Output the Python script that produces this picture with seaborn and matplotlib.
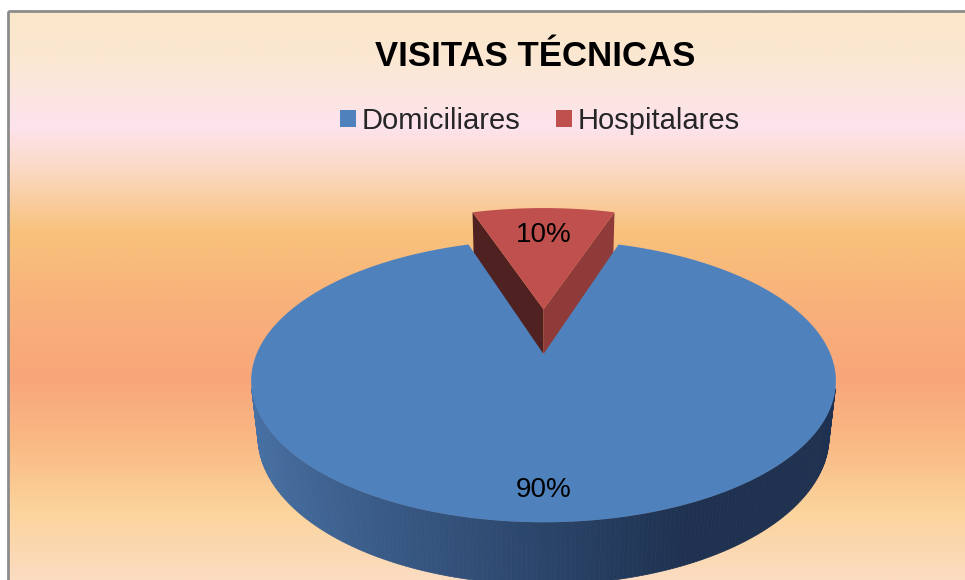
import numpy as np
import matplotlib
matplotlib.use("Agg")
import matplotlib.pyplot as plt
from matplotlib.colors import LinearSegmentedColormap, to_rgb
from matplotlib.patches import Polygon, Rectangle, Patch
import seaborn as sns

# data
categories = ["Domiciliares", "Hospitalares"]
values = [90, 10]
pct_labels = ["90%", "10%"]
title = "VISITAS TÉCNICAS"

sns.set_theme(style="white")
plt.rcParams["font.family"] = ["Liberation Sans", "DejaVu Sans"]
colors = sns.color_palette(["#4f81bd", "#c0504d"])
explode = [0.0, 0.35]
label_r = [0.84, 0.7]

W, H = 965, 580
fig = plt.figure(figsize=(W / 100, H / 100), dpi=100)
ax = fig.add_axes([0, 0, 1, 1])
ax.set_xlim(0, W)
ax.set_ylim(H, 0)
ax.axis("off")

# background gradient (Excel style)
top, bottom = 11, H
stops = [(11, "#fbe7c9"), (60, "#fbe8d3"), (125, "#fde3ed"), (165, "#fbdac8"),
         (232, "#f8c27b"), (300, "#f9b27b"), (378, "#f8a679"), (445, "#fab985"),
         (507, "#fbd39a"), (580, "#fcdcc1")]
cmap = LinearSegmentedColormap.from_list(
    "bg", [((y - top) / (bottom - top), c) for y, c in stops])
ax.imshow(np.linspace(0, 1, 600).reshape(-1, 1), cmap=cmap, aspect="auto",
          extent=[8, W, bottom, top], zorder=0)
ax.add_patch(Rectangle((8, top), W, H, fill=False, ec="#8c8c8c", lw=2, zorder=1))

# simple perspective camera for the 3D pie
f_len, tilt, dist, thick = 1320, np.radians(28.3), 4.6, 0.22
cx, cy = 543.5, 354
cam = np.array([0, -dist * np.cos(tilt), dist * np.sin(tilt)])


def proj(x, y, z):
    up = y * np.sin(tilt) + z * np.cos(tilt)
    depth = dist + y * np.cos(tilt) - z * np.sin(tilt)
    return cx + f_len * x / depth, cy - f_len * up / depth


def visible(p, n):
    return np.dot(n, cam - p) > 0


def shade(c, k):
    return tuple(np.clip(np.array(to_rgb(c)) * k, 0, 1))


shares = np.array(values) / sum(values)
start = 90 - 360 * shares[1] / 2
bounds = start - 360 * np.concatenate([[0], np.cumsum(shares)])

wall_bright, wall_dark = np.array(to_rgb("#4872a6")), np.array(to_rgb("#1e3150"))

slices = []
for i in range(len(values)):
    a, b = np.radians(bounds[i + 1]), np.radians(bounds[i])
    mid = (a + b) / 2
    o = explode[i] * np.array([np.cos(mid), np.sin(mid)])
    slices.append((i, a, b, mid, o))

# back (exploded) slices first
slices.sort(key=lambda s: -s[4][1])

for i, a, b, mid, o in slices:
    col = colors[i]
    t = np.linspace(a, b, 400)
    # radial faces
    for ang, n in [(b, np.array([-np.sin(b), np.cos(b), 0])),
                   (a, np.array([np.sin(a), -np.cos(a), 0]))]:
        pm = np.array([o[0] + 0.5 * np.cos(ang), o[1] + 0.5 * np.sin(ang), -thick / 2])
        if not visible(pm, n):
            continue
        pts = [proj(o[0], o[1], 0), proj(o[0] + np.cos(ang), o[1] + np.sin(ang), 0),
               proj(o[0] + np.cos(ang), o[1] + np.sin(ang), -thick), proj(o[0], o[1], -thick)]
        k = 0.41 if n[0] < 0 else 0.74
        ax.add_patch(Polygon(pts, closed=True, fc=shade(col, k), ec="none", zorder=2))
    # outer wall
    for t0, t1 in zip(t[:-1], t[1:]):
        tm = (t0 + t1) / 2
        n = np.array([np.cos(tm), np.sin(tm), 0])
        pm = np.array([o[0] + np.cos(tm), o[1] + np.sin(tm), -thick / 2])
        if not visible(pm, n):
            continue
        pts = [proj(o[0] + np.cos(t0), o[1] + np.sin(t0), 0),
               proj(o[0] + np.cos(t1), o[1] + np.sin(t1), 0),
               proj(o[0] + np.cos(t1), o[1] + np.sin(t1), -thick),
               proj(o[0] + np.cos(t0), o[1] + np.sin(t0), -thick)]
        k = np.clip((np.cos(tm) + 0.97) / 1.39, 0, 1)
        base = np.array(to_rgb(col)) / np.array(to_rgb(colors[0]))
        fc = np.clip(((1 - k) * wall_bright + k * wall_dark) * base, 0, 1)
        ax.add_patch(Polygon(pts, closed=True, fc=fc, ec=fc, lw=0.5, zorder=2))
    # top face
    pts = [proj(o[0], o[1], 0)] + [proj(o[0] + np.cos(tt), o[1] + np.sin(tt), 0) for tt in t]
    ax.add_patch(Polygon(pts, closed=True, fc=col, ec="none", zorder=2))
    # label
    r = label_r[i]
    lx, ly = proj(o[0] + r * np.cos(mid), o[1] + r * np.sin(mid), 0)
    ax.text(lx, ly, pct_labels[i], ha="center", va="center", fontsize=20,
            color="black", zorder=3)

ax.text(535, 56, title, ha="center", va="center", fontsize=25,
        fontweight="bold", color="black", zorder=3)

handles = [Patch(fc=colors[i], ec="none", label=categories[i]) for i in range(len(values))]
ax.legend(handles=handles, loc="center", bbox_to_anchor=(540 / W, 1 - 121 / H),
          ncol=2, frameon=False, fontsize=21, handlelength=0.55, handleheight=0.55,
          handletextpad=0.2, columnspacing=1.2, borderpad=0)

fig.savefig("out.png", dpi=100)
